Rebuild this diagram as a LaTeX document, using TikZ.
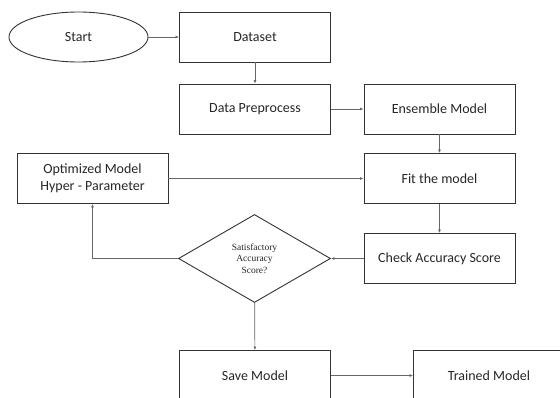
\documentclass[tikz,border=0pt]{standalone}
\usepackage{fontspec}
\setmainfont{Carlito}
\newfontfamily\serifx{Liberation Serif}
\usetikzlibrary{shapes.geometric,arrows.meta}
\begin{document}
\begin{tikzpicture}[x=1pt,y=-1pt,
  box/.style={draw=black!80,line width=0.9pt,minimum width=151pt,minimum height=50pt,inner sep=0pt,font=\fontsize{14}{16.5}\selectfont,text=black!85,align=center},
  conn/.style={draw=black!60,line width=0.7pt,-{Latex[length=3.5pt,width=3pt]}}]
\useasboundingbox (0,0) rectangle (560,398);
\clip (0,0) rectangle (560,398);
\node[draw=black!80,line width=0.9pt,ellipse,minimum width=139pt,minimum height=50pt,inner sep=0pt,text=black!85,font=\fontsize{14}{16.5}\selectfont] (start) at (78.5,37) {Start};
\node[box] (ds) at (255,37) {Dataset};
\node[box] (pre) at (255,109) {Data Preprocess};
\node[box] (ens) at (439.5,109) {Ensemble Model};
\node[box] (fit) at (439.5,178.5) {Fit the model};
\node[box] (chk) at (439.5,258.5) {Check Accuracy Score};
\node[box] (opt) at (92.5,178.5) {Optimized Model\\Hyper - Parameter};
\node[draw=black!80,line width=0.9pt,diamond,inner sep=0pt,text=black!85,font=\serifx\fontsize{9.5}{11.5}\selectfont,align=center,
  shape aspect=1.73,minimum height=88pt,minimum width=152pt] (dia) at (254.5,258.5) {Satisfactory\\Accuracy\\Score?};
\node[box] (save) at (255,375.5) {Save Model};
\node[box] (tr) at (489,375.5) {Trained Model};
\draw[conn] (start) -- (ds);
\draw[conn] (ds) -- (pre);
\draw[conn] (pre) -- (ens);
\draw[conn] (ens) -- (fit);
\draw[conn] (opt) -- (fit);
\draw[conn] (fit) -- (chk);
\draw[conn] (chk) -- (dia);
\draw[conn] (dia.west) -| (opt.south);
\draw[conn] (dia) -- (save);
\draw[conn] (save) -- (tr);
\end{tikzpicture}
\end{document}
